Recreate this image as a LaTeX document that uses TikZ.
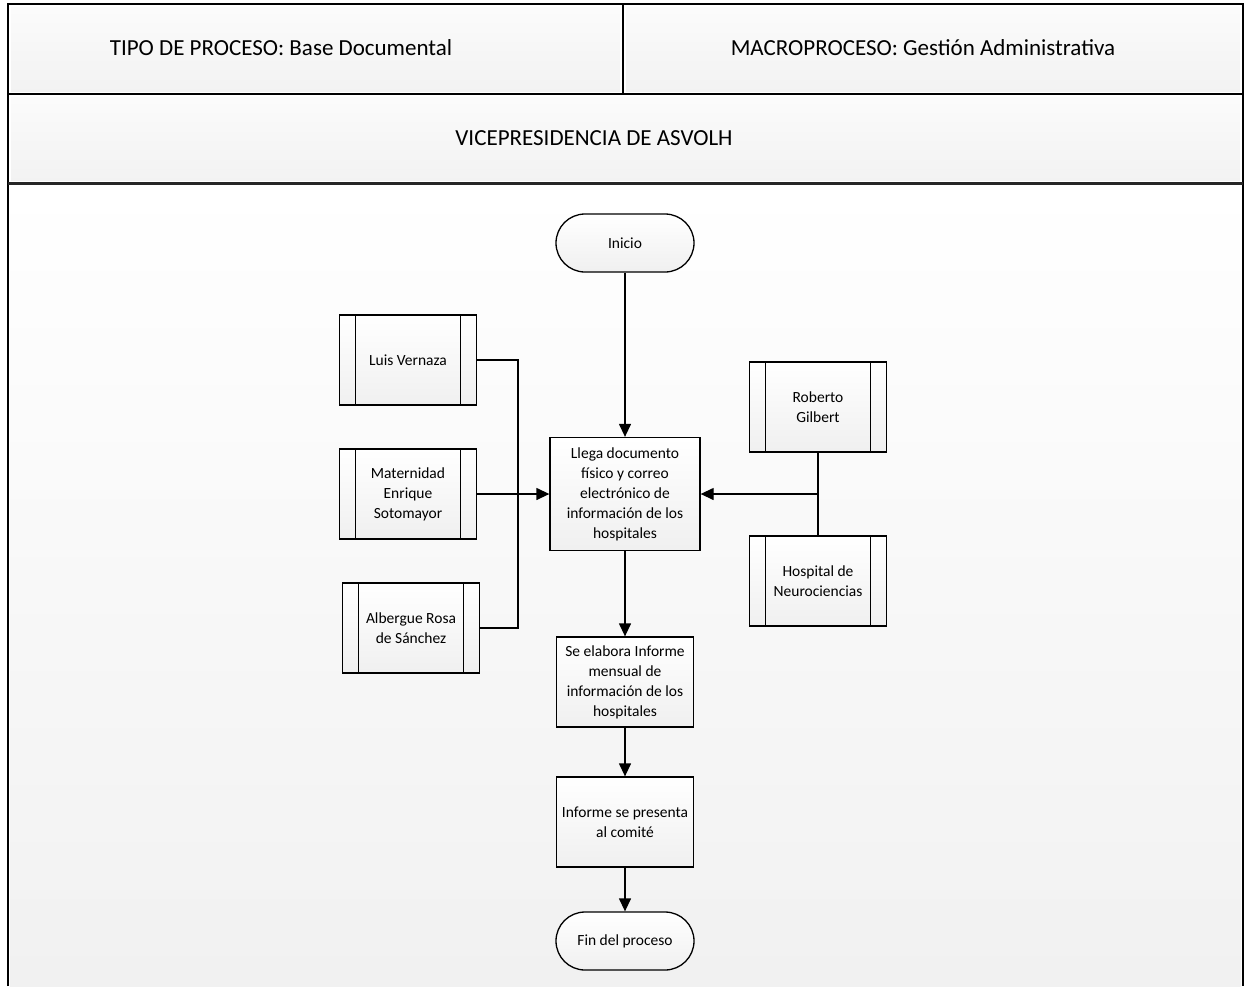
\documentclass[tikz,border=0pt]{standalone}
\usepackage{fontspec}
\setmainfont{Carlito}
\usetikzlibrary{arrows.meta}
\tikzset{
  x=1pt, y=-1pt,
  boxfill/.style={top color=white, bottom color=gray!12},
  proc/.style={draw, line width=1.3pt, boxfill, minimum width=137pt, minimum height=90pt,
    align=center, inner sep=2pt, font=\fontsize{15.5}{20}\selectfont},
  subproc/.style={proc, path picture={
    \draw[line width=1.3pt] ([xshift=16pt]path picture bounding box.north west) -- ([xshift=16pt]path picture bounding box.south west);
    \draw[line width=1.3pt] ([xshift=-16pt]path picture bounding box.north east) -- ([xshift=-16pt]path picture bounding box.south east);}},
  term/.style={draw, line width=1.3pt, boxfill, rounded corners=29pt, minimum width=138pt,
    minimum height=58pt, align=center, font=\fontsize{15.5}{20}\selectfont},
  conn/.style={line width=1.3pt},
  arr/.style={conn, -{Triangle[length=13pt,width=12pt]}},
  head/.style={font=\fontsize{23}{28}\selectfont, inner sep=0pt}
}
\begin{document}
\begin{tikzpicture}
\useasboundingbox (0,0) rectangle (1251,986);
% backgrounds
\shade[top color=white, bottom color=gray!11] (10,185) rectangle (1241,986);
\shade[top color=gray!3, bottom color=gray!10] (11,7) rectangle (620,91);
\shade[top color=gray!3, bottom color=gray!10] (626,7) rectangle (1240,91);
\shade[top color=gray!3, bottom color=gray!10] (11,97) rectangle (1240,180);
% frame
\draw[line width=2pt] (8,986) -- (8,4) -- (1243,4) -- (1243,986);
\draw[line width=1.2pt] (8,94) -- (1243,94);
\draw[line width=1.2pt] (623,4) -- (623,94);
\draw[line width=3pt, gray!30!black] (8,183) -- (1243,183);
% header texts
\node[head] (tipo) at (281,48) {TIPO DE PROCESO: Base Documental};
\node[head] (macro) at (923,48) {MACROPROCESO: Gestión Administrativa};
\node[head] (vice) at (594,138) {VICEPRESIDENCIA DE ASVOLH};
% nodes
\node[term] (inicio) at (625,243) {Inicio};
\node[subproc] (luis) at (408,360) {Luis Vernaza};
\node[subproc] (mat) at (408,494) {Maternidad\\Enrique\\Sotomayor};
\node[subproc] (alb) at (411,628) {Albergue Rosa\\de Sánchez};
\node[proc, minimum width=150pt, minimum height=113pt] (llega) at (625,494)
  {Llega documento\\físico y correo\\electrónico de\\información de los\\hospitales};
\node[subproc] (rob) at (818,407) {Roberto\\Gilbert};
\node[subproc] (hosp) at (818,581) {Hospital de\\Neurociencias};
\node[proc] (elab) at (625,682) {Se elabora Informe\\mensual de\\información de los\\hospitales};
\node[proc] (pres) at (625,822) {Informe se presenta\\al comité};
\node[term] (fin) at (625,941) {Fin del proceso};
% junctions
\coordinate (jl) at (518,494);
\coordinate (jr) at (818,494);
% connectors
\draw[arr] (inicio) -- (llega);
\draw[arr] (llega) -- (elab);
\draw[arr] (elab) -- (pres);
\draw[arr] (pres) -- (fin);
\draw[conn] (luis.east) -| (jl);
\draw[conn] (alb.east) -| (jl);
\draw[arr] (mat.east) -- (llega.west);
\draw[conn] (rob.south) -- (hosp.north);
\draw[arr] (jr) -- (llega.east);
\end{tikzpicture}
\end{document}
